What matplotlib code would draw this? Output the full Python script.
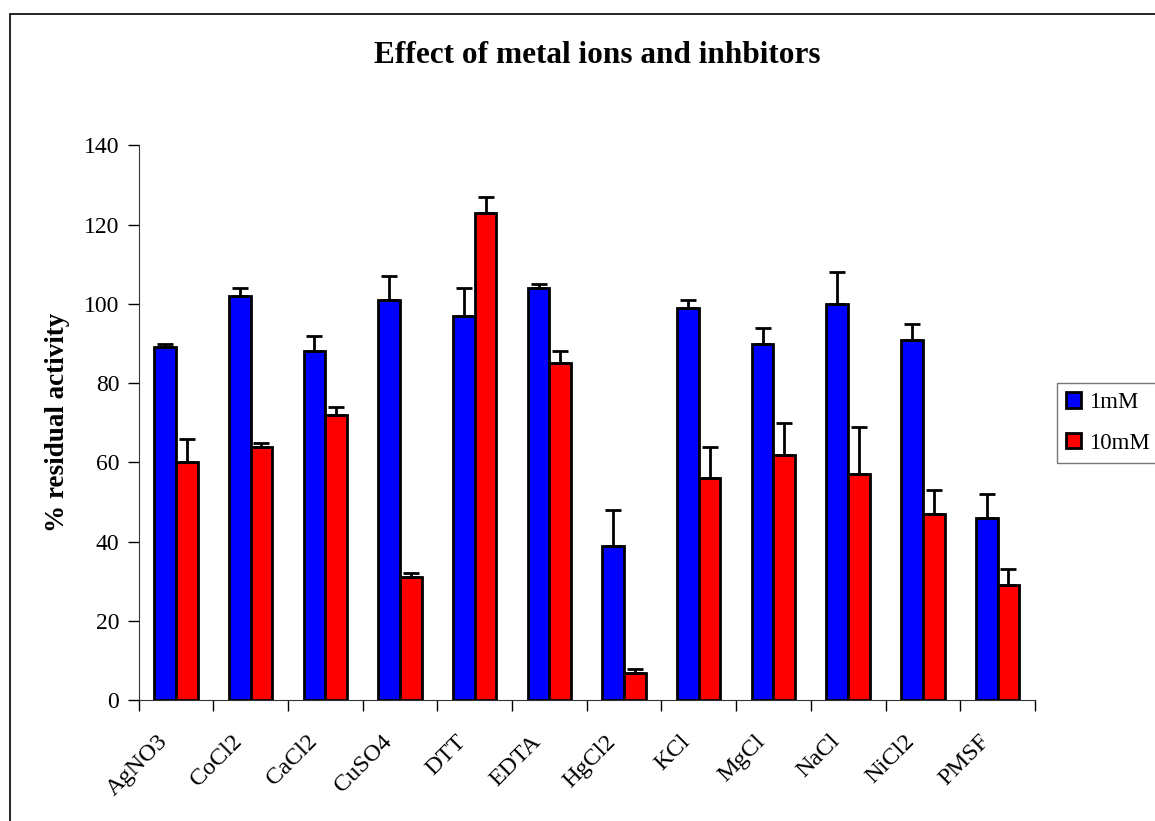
import numpy as np
import matplotlib.pyplot as plt
import matplotlib.transforms as mtransforms
from matplotlib.patches import Rectangle

categories = ["AgNO3", "CoCl2", "CaCl2", "CuSO4", "DTT", "EDTA",
              "HgCl2", "KCl", "MgCl", "NaCl", "NiCl2", "PMSF"]
mm1 = [89, 102, 88, 101, 97, 104, 39, 99, 90, 100, 91, 46]
mm1_err = [1, 2, 4, 6, 7, 1, 9, 2, 4, 8, 4, 6]
mm10 = [60, 64, 72, 31, 123, 85, 7, 56, 62, 57, 47, 29]
mm10_err = [6, 1, 2, 1, 4, 3, 1, 8, 8, 12, 6, 4]

plt.rcParams['font.family'] = ['Liberation Serif', 'DejaVu Serif']

fig = plt.figure(figsize=(11.55, 8.21), dpi=100)
ax = fig.add_axes([0.120, 0.147, 0.776, 0.676])

# marco exterior del gráfico
fig.patches.append(Rectangle((10 / 1155, -0.1), 1.2, 1.1 - 14 / 821,
                             transform=fig.transFigure, fill=False,
                             edgecolor='black', linewidth=1.2))

x = np.arange(len(categories))
w = 0.29
err_kw = dict(elinewidth=2, capsize=6, capthick=2, ecolor='black')
ax.bar(x - w / 2, mm1, w, color='#0000ff', edgecolor='black', linewidth=2,
       yerr=[np.zeros(len(mm1)), mm1_err], error_kw=err_kw, label='1mM', zorder=3)
ax.bar(x + w / 2, mm10, w, color='#ff0000', edgecolor='black', linewidth=2,
       yerr=[np.zeros(len(mm10)), mm10_err], error_kw=err_kw, label='10mM', zorder=3)

ax.set_xlim(-0.5, len(categories) - 0.5)
ax.set_ylim(0, 140)
ax.set_yticks(range(0, 141, 20))
ax.tick_params(axis='y', labelsize=17, length=8, width=1, direction='out', pad=6)
ax.set_xticks(x)
ax.set_xticklabels(categories, rotation=45, ha='right', rotation_mode='anchor', fontsize=17.5)
ax.tick_params(axis='x', length=0, pad=22)
offset = mtransforms.ScaledTranslation(-19 / 100, 0, fig.dpi_scale_trans)
for lab in ax.get_xticklabels():
    lab.set_transform(lab.get_transform() + offset)
ax.set_xticks(np.arange(-0.5, len(categories), 1), minor=True)
ax.tick_params(axis='x', which='minor', length=8, width=1, direction='out')

for s in ['top', 'right']:
    ax.spines[s].set_visible(False)
for s in ['left', 'bottom']:
    ax.spines[s].set_color('#333333')

ax.set_ylabel('% residual activity', fontsize=19.5, fontweight='bold', labelpad=10)
fig.text(0.517, 0.932, 'Effect of metal ions and inhbitors', ha='center', va='center',
         fontsize=22.5, fontweight='bold')

leg = ax.legend(loc='center left', bbox_to_anchor=(1.0246, 0.50), borderaxespad=0,
                fontsize=16.5, frameon=True, fancybox=False, edgecolor='#555555',
                handlelength=0.65, handleheight=0.65, handletextpad=0.35,
                borderpad=0.4, labelspacing=0.85)
leg.get_frame().set_linewidth(1)

plt.savefig('out.png', dpi=100)
